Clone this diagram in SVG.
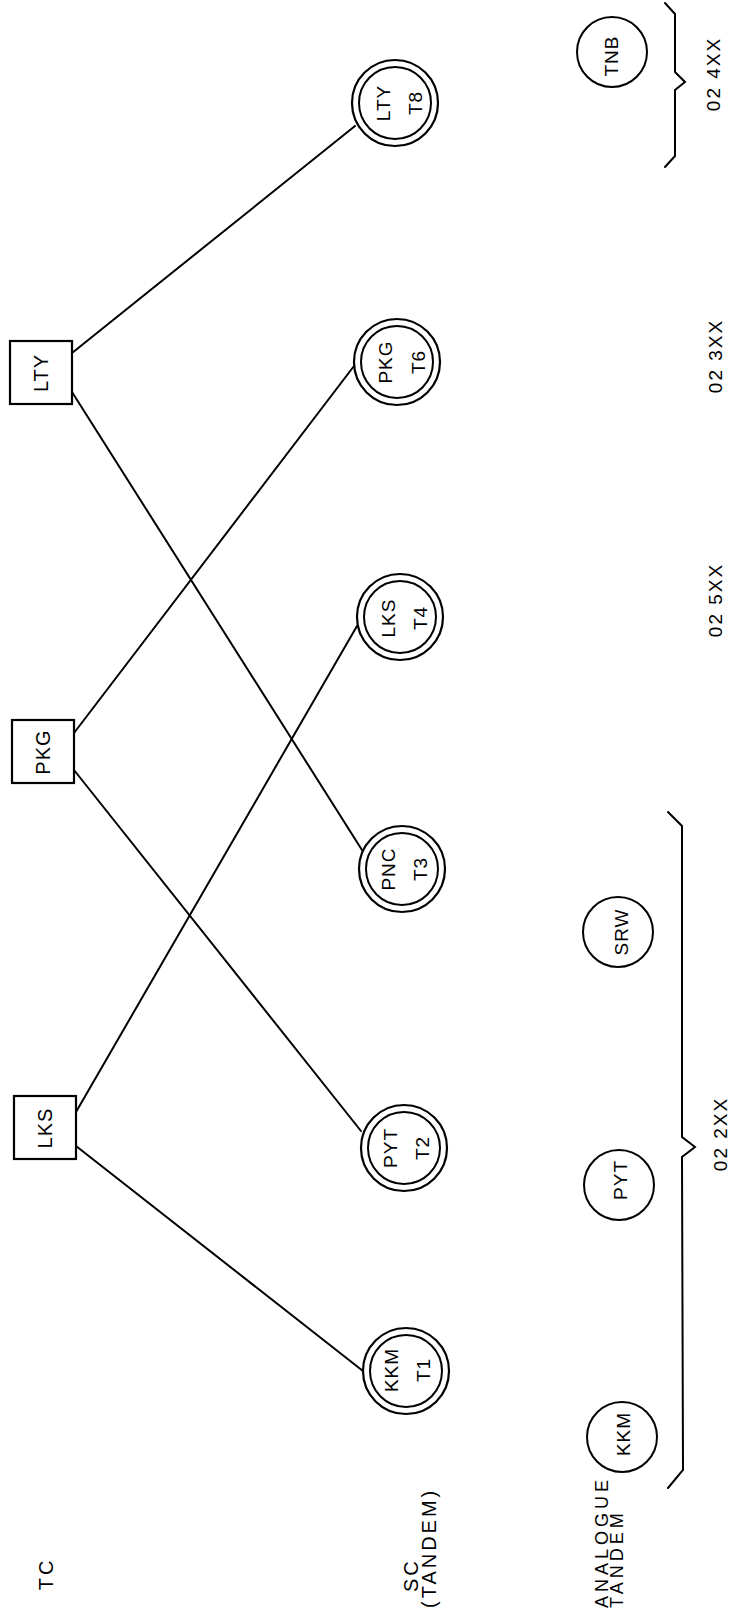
<svg xmlns="http://www.w3.org/2000/svg" width="731" height="1610" viewBox="0 0 731 1610">
<style>
.ln{stroke:#000;stroke-width:2;fill:none;stroke-linecap:round}
.box{stroke:#000;stroke-width:2.2;fill:#fff}
.c{stroke:#000;stroke-width:2.2;fill:#fff}
.ci{stroke:#000;stroke-width:2;fill:none}
text{font-family:"Liberation Sans",Arial,sans-serif;fill:#000}
.lb{font-size:20px;letter-spacing:1px}
.tl{font-size:19px;letter-spacing:2px}
.cl{font-size:19px;letter-spacing:1px}
.big{font-size:20px;letter-spacing:3px}
.an{font-size:18px;letter-spacing:4px}
</style>
<rect width="731" height="1610" fill="#fff"/>
<g id="connectors">
<line class="ln" x1="76" y1="1112" x2="357" y2="626"/>
<line class="ln" x1="76" y1="1146" x2="363" y2="1371"/>
<line class="ln" x1="74" y1="733" x2="354" y2="366"/>
<line class="ln" x1="74" y1="770" x2="361" y2="1131"/>
<line class="ln" x1="72" y1="353" x2="355" y2="126"/>
<line class="ln" x1="72" y1="392" x2="362" y2="850"/>
</g>
<g id="box-lks"><rect class="box" x="14" y="1096" width="62" height="63"/><text class="lb" text-anchor="middle" transform="translate(52,1128) rotate(-90)">LKS</text></g>
<g id="box-pkg"><rect class="box" x="12" y="720" width="62" height="63"/><text class="lb" text-anchor="middle" transform="translate(50,752) rotate(-90)">PKG</text></g>
<g id="box-lty"><rect class="box" x="10" y="341" width="62" height="63"/><text class="lb" text-anchor="middle" transform="translate(48,373) rotate(-90)">LTY</text></g>

<g id="t1"><circle class="c" cx="406" cy="1371" r="43"/><circle class="ci" cx="406" cy="1371" r="36"/>
<text class="cl" text-anchor="middle" transform="translate(398,1370) rotate(-90)">KKM</text><text class="cl" text-anchor="middle" transform="translate(430,1370) rotate(-90)">T1</text></g>
<g id="t2"><circle class="c" cx="404" cy="1148" r="43"/><circle class="ci" cx="404" cy="1148" r="36"/>
<text class="cl" text-anchor="middle" transform="translate(397,1148) rotate(-90)">PYT</text><text class="cl" text-anchor="middle" transform="translate(429,1148) rotate(-90)">T2</text></g>
<g id="t3"><circle class="c" cx="402" cy="869" r="43"/><circle class="ci" cx="402" cy="869" r="36"/>
<text class="cl" text-anchor="middle" transform="translate(395,869) rotate(-90)">PNC</text><text class="cl" text-anchor="middle" transform="translate(427,869) rotate(-90)">T3</text></g>
<g id="t4"><circle class="c" cx="400" cy="617" r="43"/><circle class="ci" cx="400" cy="617" r="36"/>
<text class="cl" text-anchor="middle" transform="translate(395,618) rotate(-90)">LKS</text><text class="cl" text-anchor="middle" transform="translate(427,618) rotate(-90)">T4</text></g>
<g id="t6"><circle class="c" cx="397" cy="362" r="43"/><circle class="ci" cx="397" cy="362" r="36"/>
<text class="cl" text-anchor="middle" transform="translate(392,362) rotate(-90)">PKG</text><text class="cl" text-anchor="middle" transform="translate(425,362) rotate(-90)">T6</text></g>
<g id="t8"><circle class="c" cx="395" cy="103" r="43"/><circle class="ci" cx="395" cy="103" r="36"/>
<text class="cl" text-anchor="middle" transform="translate(390,103) rotate(-90)">LTY</text><text class="cl" text-anchor="middle" transform="translate(422,103) rotate(-90)">T8</text></g>

<g id="a-kkm"><circle class="ci" cx="622" cy="1437" r="35"/><text class="cl" text-anchor="middle" transform="translate(630,1434) rotate(-90)">KKM</text></g>
<g id="a-pyt"><circle class="ci" cx="619" cy="1185" r="35"/><text class="cl" text-anchor="middle" transform="translate(627,1180) rotate(-90)">PYT</text></g>
<g id="a-srw"><circle class="ci" cx="618" cy="932" r="35"/><text class="cl" text-anchor="middle" transform="translate(628,932) rotate(-90)">SRW</text></g>
<g id="a-tnb"><circle class="ci" cx="612" cy="52" r="35"/><text class="cl" text-anchor="middle" transform="translate(618,56) rotate(-90)">TNB</text></g>

<g id="braces">
<path class="ln" d="M668,812 L682,826 L682,1137 L695,1147 L682,1157 L683,1470 L668,1488"/>
<path class="ln" d="M665,3 L675,14 L675,72 L685,82 L675,90 L675,156 L665,167"/>
</g>
<g id="labels">
<text class="big" text-anchor="middle" transform="translate(53,1574) rotate(-90)">TC</text>
<text class="big" text-anchor="start" transform="translate(418,1592) rotate(-90)">SC</text>
<text class="big" text-anchor="start" transform="translate(436,1608) rotate(-90)">(TANDEM)</text>
<text class="an" text-anchor="start" transform="translate(608,1608) rotate(-90)">ANALOGUE</text>
<text class="an" text-anchor="start" transform="translate(623,1608) rotate(-90)">TANDEM</text>
<text class="tl" text-anchor="middle" transform="translate(727,1134) rotate(-90)">02 2XX</text>
<text class="tl" text-anchor="middle" transform="translate(722,600) rotate(-90)">02 5XX</text>
<text class="tl" text-anchor="middle" transform="translate(722,356) rotate(-90)">02 3XX</text>
<text class="tl" text-anchor="middle" transform="translate(720,74) rotate(-90)">02 4XX</text>
</g>
</svg>
